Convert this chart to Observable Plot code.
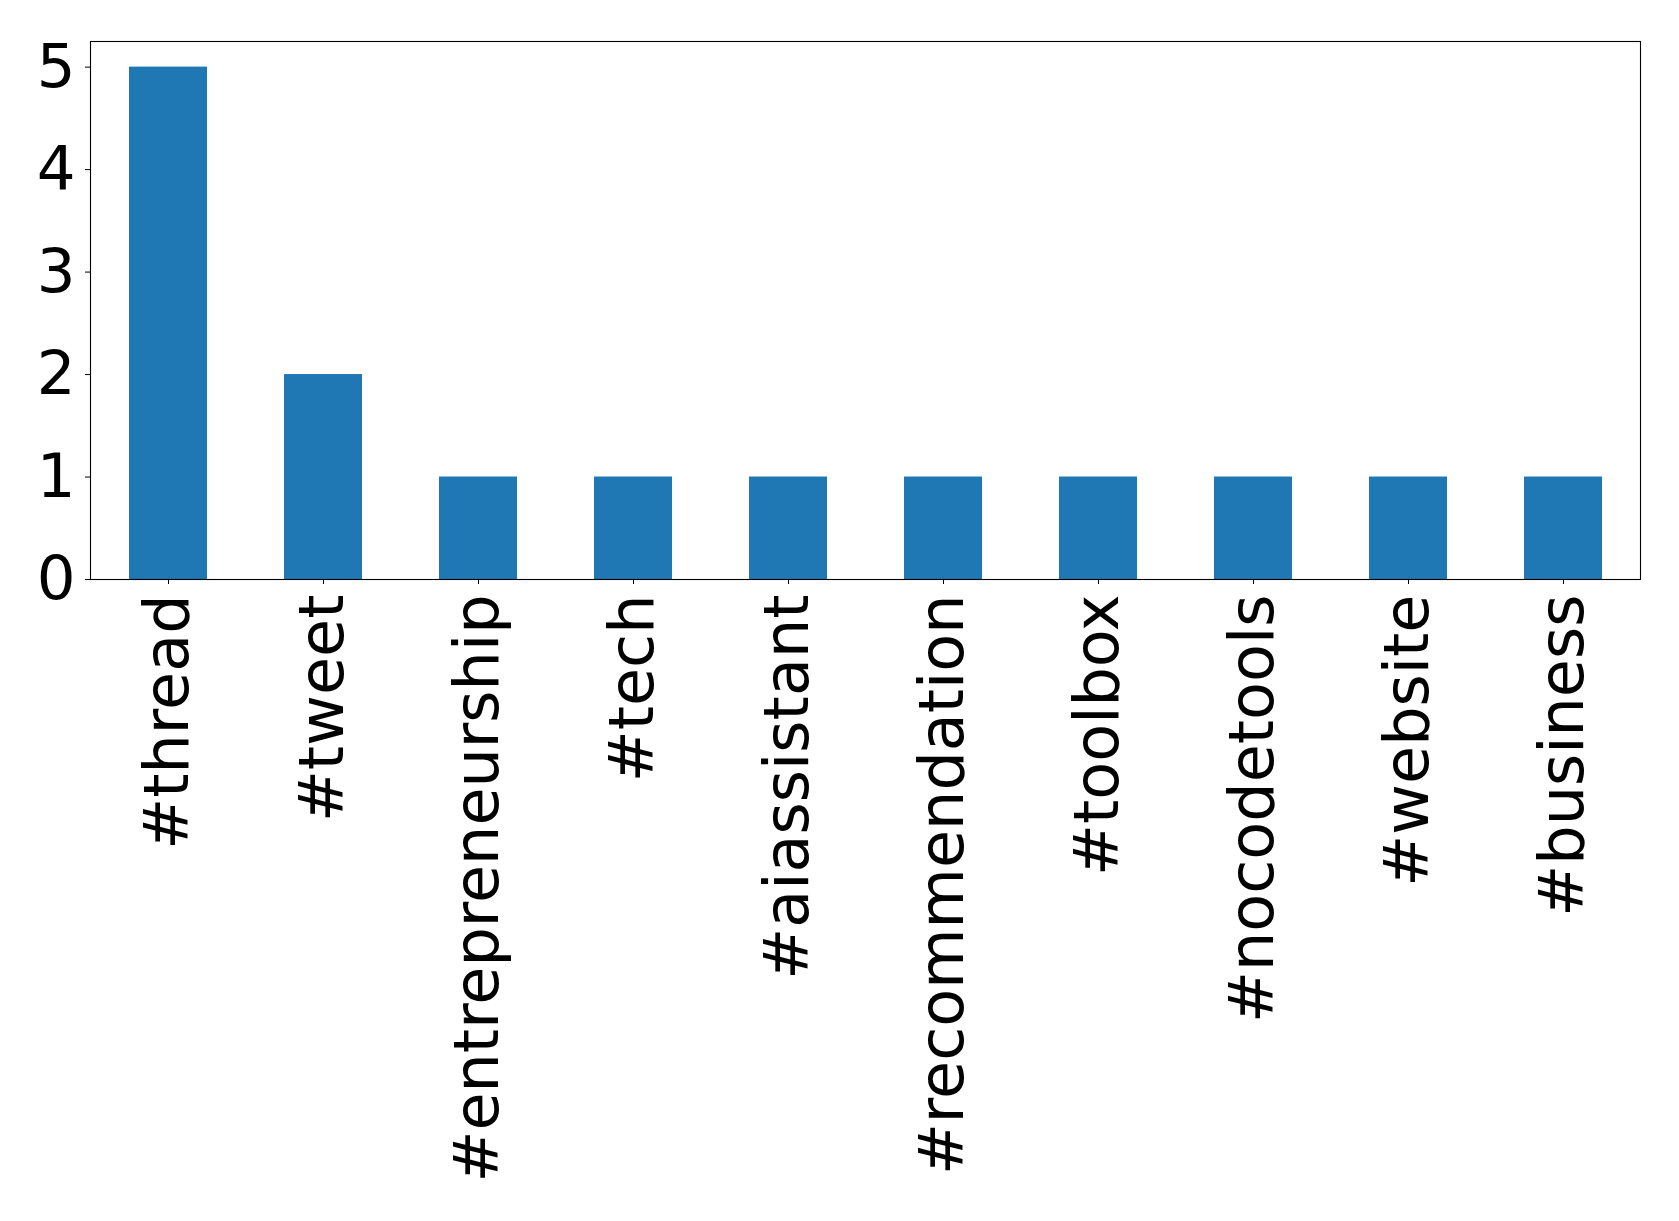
<!DOCTYPE html>
<html>
<head>
<meta charset="utf-8">
<script src="https://cdn.jsdelivr.net/npm/d3@7"></script>
<script src="https://cdn.jsdelivr.net/npm/@observablehq/plot@0.6"></script>
<style>
  html, body { margin: 0; padding: 0; background: #fff; }
  #chart svg { display: block; }
</style>
</head>
<body>
<div id="chart"></div>
<script>
const hashtags = ["#thread", "#tweet", "#entrepreneurship", "#tech", "#aiassistant", "#recommendation", "#toolbox", "#nocodetools", "#website", "#business"];
const counts = [5, 2, 1, 1, 1, 1, 1, 1, 1, 1];
const yTicks = [0, 1, 2, 3, 4, 5];

const data = hashtags.map((h, i) => ({tag: h, count: counts[i]}));

const chart = Plot.plot({
  width: 1679,
  height: 1221,
  marginLeft: 90,
  marginRight: 39,
  marginTop: 41,
  marginBottom: 642,
  style: {fontFamily: "'DejaVu Sans', sans-serif", fontSize: "60px", color: "#000", background: "#fff"},
  x: {domain: hashtags, paddingInner: 0.5, paddingOuter: 0.25, label: null},
  y: {domain: [0, 5.25], label: null},
  marks: [
    Plot.barY(data, {x: "tag", y: "count", fill: "#1f77b4"}),
    Plot.axisX({tickRotate: -90, tickSize: 5, tickPadding: 10, label: null, fontSize: 62}),
    Plot.axisY({ticks: yTicks, tickSize: 5, tickPadding: 10, label: null, fontSize: 61, tickFormat: d3.format("d")}),
    Plot.frame({stroke: "#000", strokeWidth: 1.1})
  ]
});
document.getElementById("chart").appendChild(chart);
</script>
</body>
</html>
